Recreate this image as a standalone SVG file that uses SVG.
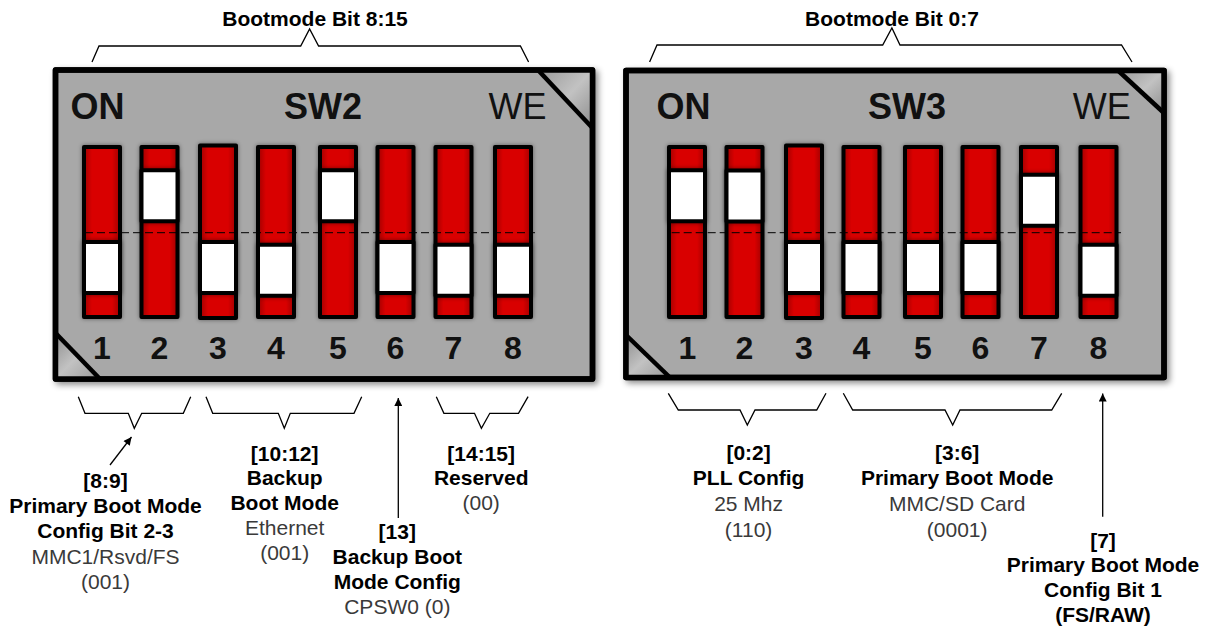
<svg xmlns="http://www.w3.org/2000/svg" width="1209" height="630" viewBox="0 0 1209 630">
<defs>
  <style>
    text{font-family:"Liberation Sans",Arial,sans-serif;}
    .title{font-size:21px;font-weight:bold;fill:#000;text-anchor:middle;}
    .big{font-size:36px;font-weight:bold;fill:#111;}
    .we{font-size:36px;font-weight:normal;fill:#111;text-anchor:end;}
    .num{font-size:32px;font-weight:bold;fill:#111;text-anchor:middle;}
    .lb{font-size:21px;font-weight:bold;fill:#000;text-anchor:middle;}
    .lr{font-size:21px;font-weight:normal;fill:#3a3a3a;text-anchor:middle;}
    .box{fill:#a8a8a8;stroke:#000;stroke-width:5.5;stroke-linejoin:round;}
    .bar{fill:url(#red);stroke:#000;stroke-width:4;stroke-linejoin:round;}
    .knob{fill:#fff;stroke:#000;stroke-width:4;stroke-linejoin:round;}
    .diag{stroke:#000;stroke-width:4.5;fill:none;}
    .dash{stroke:#000;stroke-width:1;stroke-dasharray:8 4;fill:none;}
    .brace{stroke:#000;stroke-width:1.3;fill:none;stroke-linejoin:miter;}
    .arr{stroke:#000;stroke-width:1.3;fill:none;marker-end:url(#ah);}
  </style>
  <linearGradient id="red" x1="0" y1="0" x2="1" y2="0">
    <stop offset="0" stop-color="#a00000"/>
    <stop offset="0.22" stop-color="#d90000"/>
    <stop offset="0.78" stop-color="#d90000"/>
    <stop offset="1" stop-color="#a00000"/>
  </linearGradient>
  <linearGradient id="curlTR" x1="0" y1="0" x2="1" y2="1">
    <stop offset="0" stop-color="#9a9a9a"/>
    <stop offset="0.5" stop-color="#c2c2c2"/>
    <stop offset="1" stop-color="#8c8c8c"/>
  </linearGradient>
  <linearGradient id="curlBL" x1="0" y1="0" x2="1" y2="1">
    <stop offset="0" stop-color="#8c8c8c"/>
    <stop offset="0.5" stop-color="#c2c2c2"/>
    <stop offset="1" stop-color="#9a9a9a"/>
  </linearGradient>
  <filter id="boxsh" x="-5%" y="-5%" width="115%" height="115%">
    <feDropShadow dx="3" dy="3" stdDeviation="3" flood-color="#000" flood-opacity="0.45"/>
  </filter>
  <filter id="ksh" x="-30%" y="-30%" width="160%" height="160%">
    <feDropShadow dx="0" dy="0" stdDeviation="2" flood-color="#000" flood-opacity="0.45"/>
  </filter>
  <marker id="ah" viewBox="0 0 10 10" refX="10" refY="5" markerWidth="9" markerHeight="8" markerUnits="userSpaceOnUse" orient="auto">
    <path d="M0,0 L10,5 L0,10 z" fill="#000"/>
  </marker>
</defs>

<rect width="1209" height="630" fill="#fff"/>

<g id="titles">
  <text class="title" x="315" y="25.5">Bootmode Bit 8:15</text>
  <text class="title" x="892" y="25.5">Bootmode Bit 0:7</text>
</g>

<g id="sw2">
  <rect class="box" x="55.5" y="70" width="537" height="309" filter="url(#boxsh)"/>
  <polygon points="538,70 592.5,70 592.5,128" fill="url(#curlTR)"/>
  <polygon points="55.5,333 55.5,379 100,379" fill="url(#curlBL)"/>
  <line class="diag" x1="538" y1="70" x2="592.5" y2="128"/>
  <line class="diag" x1="55.5" y1="333" x2="100" y2="379"/>
  <rect x="55.5" y="70" width="537" height="309" fill="none" stroke="#000" stroke-width="5.5" stroke-linejoin="round"/>
  <text class="big" x="70.5" y="119.3">ON</text>
  <text class="big" x="323" y="119.3" text-anchor="middle">SW2</text>
  <text class="we" x="546.5" y="119.3">WE</text>
  <g filter="url(#ksh)">
    <rect class="bar" x="84" y="147" width="36" height="170"/>
    <rect class="bar" x="141.5" y="147" width="36" height="170"/>
    <rect class="bar" x="200" y="145.5" width="36" height="172.5"/>
    <rect class="bar" x="258" y="147" width="36" height="170"/>
    <rect class="bar" x="320" y="147" width="36" height="170"/>
    <rect class="bar" x="377.5" y="147" width="36" height="170"/>
    <rect class="bar" x="435.5" y="147" width="36" height="170"/>
    <rect class="bar" x="495" y="147" width="36" height="170"/>
  </g>
  <g filter="url(#ksh)">
    <rect class="knob" x="84" y="242" width="36" height="51"/>
    <rect class="knob" x="141.5" y="170.3" width="36" height="51"/>
    <rect class="knob" x="200" y="242" width="36" height="51"/>
    <rect class="knob" x="258" y="244.7" width="36" height="51"/>
    <rect class="knob" x="320" y="170.3" width="36" height="51"/>
    <rect class="knob" x="377.5" y="242" width="36" height="51"/>
    <rect class="knob" x="435.5" y="244.7" width="36" height="51"/>
    <rect class="knob" x="495" y="244.7" width="36" height="51"/>
  </g>
  <line class="dash" x1="85" y1="232.7" x2="535" y2="232.7"/>
  <text class="num" x="102" y="359">1</text>
  <text class="num" x="159.5" y="359">2</text>
  <text class="num" x="218" y="359">3</text>
  <text class="num" x="276" y="359">4</text>
  <text class="num" x="338" y="359">5</text>
  <text class="num" x="395.5" y="359">6</text>
  <text class="num" x="453.5" y="359">7</text>
  <text class="num" x="513" y="359">8</text>
</g>

<g id="sw3">
  <rect class="box" x="626" y="70.5" width="538" height="307" filter="url(#boxsh)"/>
  <polygon points="1118,70.5 1164,70.5 1164,113" fill="url(#curlTR)"/>
  <polygon points="626,335 626,377.5 670,377.5" fill="url(#curlBL)"/>
  <line class="diag" x1="1118" y1="70.5" x2="1164" y2="113"/>
  <line class="diag" x1="626" y1="335" x2="670" y2="377.5"/>
  <rect x="626" y="70.5" width="538" height="307" fill="none" stroke="#000" stroke-width="5.5" stroke-linejoin="round"/>
  <text class="big" x="656.5" y="119.3">ON</text>
  <text class="big" x="907" y="119.3" text-anchor="middle">SW3</text>
  <text class="we" x="1130.7" y="119.3">WE</text>
  <g filter="url(#ksh)">
    <rect class="bar" x="669" y="147" width="36" height="170"/>
    <rect class="bar" x="726.5" y="147" width="36" height="170"/>
    <rect class="bar" x="786" y="145.5" width="36" height="172.5"/>
    <rect class="bar" x="843.5" y="147" width="36" height="170"/>
    <rect class="bar" x="905" y="147" width="36" height="170"/>
    <rect class="bar" x="962.5" y="147" width="36" height="170"/>
    <rect class="bar" x="1021" y="147" width="36" height="170"/>
    <rect class="bar" x="1080.5" y="147" width="36" height="170"/>
  </g>
  <g filter="url(#ksh)">
    <rect class="knob" x="669" y="170.3" width="36" height="51"/>
    <rect class="knob" x="726.5" y="170.5" width="36" height="51"/>
    <rect class="knob" x="786" y="242" width="36" height="51"/>
    <rect class="knob" x="843.5" y="242" width="36" height="51"/>
    <rect class="knob" x="905" y="242" width="36" height="51"/>
    <rect class="knob" x="962.5" y="242" width="36" height="51"/>
    <rect class="knob" x="1021" y="174.7" width="36" height="51"/>
    <rect class="knob" x="1080.5" y="244.7" width="36" height="51"/>
  </g>
  <line class="dash" x1="671.7" y1="232.7" x2="1121" y2="232.7"/>
  <text class="num" x="687.5" y="359">1</text>
  <text class="num" x="744.5" y="359">2</text>
  <text class="num" x="804" y="359">3</text>
  <text class="num" x="861.5" y="359">4</text>
  <text class="num" x="923" y="359">5</text>
  <text class="num" x="980.5" y="359">6</text>
  <text class="num" x="1039" y="359">7</text>
  <text class="num" x="1098.5" y="359">8</text>
</g>

<g id="connectors">
  <path class="brace" d="M92,62 L99,46 L300.7,46 L309.6,29 L318.6,46 L520.4,46 L528.6,62"/>
  <path class="brace" d="M649.6,62 L657,45 L882.7,45 L891.9,28 L900,45 L1121.5,45 L1132,62"/>
  <path class="brace" d="M78.3,396.7 L85,413.3 L128.3,413.3 L134.3,428.3 L141.7,413.3 L183.3,413.3 L190.7,396.7"/>
  <path class="brace" d="M206,396.7 L212.7,413.3 L278.3,413.3 L284.3,428.3 L290.3,413.3 L354,413.3 L361.7,396.7"/>
  <path class="brace" d="M436.3,396.7 L443.9,413.3 L474.5,413.3 L481.4,428.3 L489.8,413.3 L518.5,413.3 L528.1,396.7"/>
  <path class="brace" d="M668.3,393.3 L678.3,410 L740,410 L747.3,425 L755,410 L816.7,410 L826,393.3"/>
  <path class="brace" d="M843.3,393.3 L852.7,410 L945,410 L952.7,425 L960,410 L1051.7,410 L1061.7,393.3"/>
  <line class="arr" x1="110" y1="465" x2="131.5" y2="437"/>
  <line class="arr" x1="398.3" y1="518" x2="398.3" y2="398"/>
  <line class="arr" x1="1102.7" y1="516.7" x2="1102.7" y2="393.5"/>
</g>

<g id="label-8-9">
  <text class="lb" x="105.5" y="488">[8:9]</text>
  <text class="lb" x="105.5" y="513">Primary Boot Mode</text>
  <text class="lb" x="105.5" y="538">Config Bit 2-3</text>
  <text class="lr" x="105.5" y="563.5">MMC1/Rsvd/FS</text>
  <text class="lr" x="105.5" y="589">(001)</text>
</g>
<g id="label-10-12">
  <text class="lb" x="284.7" y="460.5">[10:12]</text>
  <text class="lb" x="284.7" y="485">Backup</text>
  <text class="lb" x="284.7" y="509.5">Boot Mode</text>
  <text class="lr" x="284.7" y="535">Ethernet</text>
  <text class="lr" x="284.7" y="560">(001)</text>
</g>
<g id="label-13">
  <text class="lb" x="397.3" y="539">[13]</text>
  <text class="lb" x="397.3" y="564">Backup Boot</text>
  <text class="lb" x="397.3" y="588.5">Mode Config</text>
  <text class="lr" x="397.3" y="613.5">CPSW0 (0)</text>
</g>
<g id="label-14-15">
  <text class="lb" x="481.2" y="460.5">[14:15]</text>
  <text class="lb" x="481.2" y="485">Reserved</text>
  <text class="lr" x="481.2" y="510">(00)</text>
</g>
<g id="label-0-2">
  <text class="lb" x="748.6" y="460">[0:2]</text>
  <text class="lb" x="748.6" y="485">PLL Config</text>
  <text class="lr" x="748.6" y="511">25 Mhz</text>
  <text class="lr" x="748.6" y="536.5">(110)</text>
</g>
<g id="label-3-6">
  <text class="lb" x="957.2" y="460">[3:6]</text>
  <text class="lb" x="957.2" y="485">Primary Boot Mode</text>
  <text class="lr" x="957.2" y="511">MMC/SD Card</text>
  <text class="lr" x="957.2" y="536.5">(0001)</text>
</g>
<g id="label-7">
  <text class="lb" x="1103" y="547.5">[7]</text>
  <text class="lb" x="1103" y="572">Primary Boot Mode</text>
  <text class="lb" x="1103" y="597">Config Bit 1</text>
  <text class="lb" x="1103" y="621.5">(FS/RAW)</text>
</g>
</svg>
